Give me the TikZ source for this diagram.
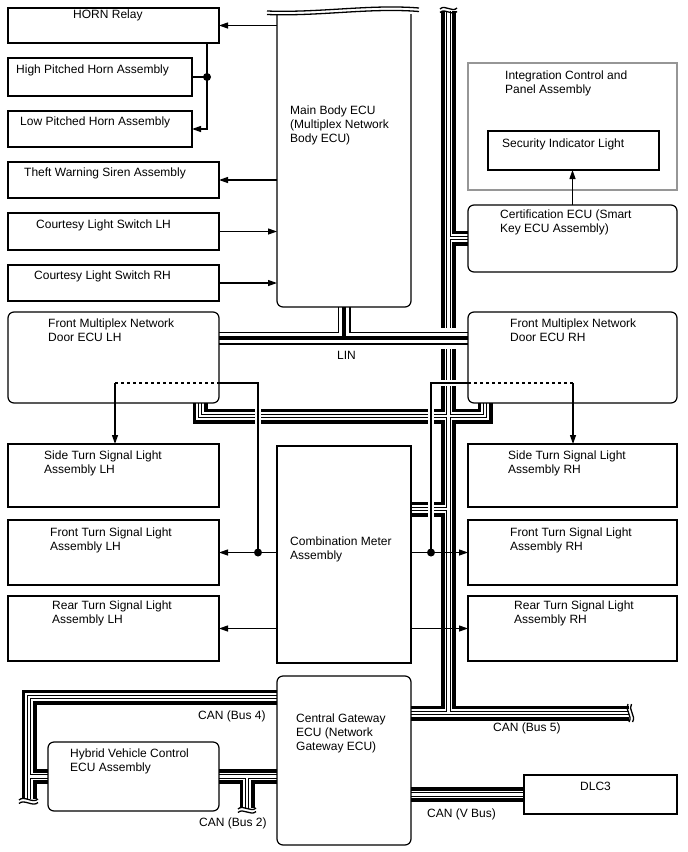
\documentclass[tikz,border=0pt]{standalone}
\usepackage{fontspec}
\setmainfont{Liberation Sans}
\usetikzlibrary{arrows.meta,backgrounds}
\definecolor{frameG}{RGB}{150,150,150}

% CAN twisted pairs, drawn in layers
\newcommand\canpath{%
  (448.5,11) -- (448.5,713)
  (gateway.east |- 0,713) -- (629,713)
  (448.5,238) -- (cert.west |- 0,238)
  (200,0 |- doorl.south) |- (485,416) -- (485,0 |- doorr.south)
  (cmeter.east |- 0,509) -- (448.5,509)
  (gateway.west |- 0,697) -| (29,799)
  (29,776.5) -- (hybrid.west |- 0,776.5)
  (gateway.west |- 0,776.5) -- (hybrid.east |- 0,776.5)
  (247,776.5) -- (247,808)
  (gateway.east |- dlc.west) -- (dlc.west)}

\begin{document}
\begin{tikzpicture}[x=1pt,y=-1pt,>={Triangle[length=9pt,width=6pt]},
  box/.style 2 args={draw,line width=1.2pt,minimum width=#1,minimum height=#2,anchor=north west,inner sep=0pt,outer sep=0pt},
  rbox/.style 2 args={box={#1}{#2},rounded corners=6pt},
  txt/.style={anchor=north west,inner sep=0pt,align=left,font=\fontsize{12}{14}\selectfont},
  wire/.style={line width=1.2pt},
  sig/.style={line width=1.2pt,preaction={draw,white,line width=6pt}},
  brk/.style={line width=1.3pt}]
\useasboundingbox (0,0) rectangle (688,852);

% left column
\node[box={211}{35}] (horn) at (8,8) {};
\node[box={184}{38}] (high) at (8,58) {};
\node[box={184}{36}] (low) at (8,111) {};
\node[box={211}{36}] (theft) at (8,162) {};
\node[box={211}{37}] (cslh) at (8,213) {};
\node[box={211}{36}] (csrh) at (8,265) {};
\node[rbox={211}{91}] (doorl) at (8,312) {};
\node[box={211}{63}] (sidel) at (8,444) {};
\node[box={211}{65}] (frontl) at (8,520) {};
\node[box={211}{65}] (rearl) at (8,596) {};
\node[rbox={171}{69}] (hybrid) at (48,742) {};

% middle column
\node[box={134}{293},draw=none] (mainecu) at (277,14) {};
\draw[wire,rounded corners=6pt] (mainecu.north west) -- (mainecu.south west) -- (mainecu.south east) -- (mainecu.north east);
\node[box={134}{217}] (cmeter) at (277,446) {};
\node[rbox={134}{169}] (gateway) at (277,676) {};

% right column
\node[box={209}{127},draw=frameG] (integ) at (468,63) {};
\node[box={171}{39}] (secind) at (488,131) {};
\node[rbox={209}{67}] (cert) at (468,205) {};
\node[rbox={209}{91}] (doorr) at (468,312) {};
\node[box={209}{63}] (sider) at (468,444) {};
\node[box={209}{65}] (frontr) at (468,520) {};
\node[box={209}{65}] (rearr) at (468,596) {};
\node[box={153}{39}] (dlc) at (524,775) {};

\coordinate (hjoin) at (207,77);
\coordinate (dl) at (115,383);
\coordinate (dr) at (573,383);
\path (frontl.east) ++(39,0) coordinate (ldot);
\path (frontr.west) ++(-37,0) coordinate (rdot);

\begin{scope}[on background layer]
  \foreach \w/\c in {15pt/black,7.5pt/white,4.5pt/black,2.5pt/white}
    \draw[line width=\w,\c] \canpath;
  % LIN
  \draw[white,line width=21pt] (doorl.east |- 0,338) -- (doorr.west |- 0,338);
  \foreach \w/\c in {13pt/black,10.5pt/white,4.5pt/black}
    \draw[line width=\w,\c] (mainecu.south) -- (mainecu.south |- 0,338)
      (doorl.east |- 0,338) -- (doorr.west |- 0,338);
  % turn signal feeds
  \draw[sig] (doorl.east |- dl) -| (ldot);
  \draw[sig] (doorr.west |- dr) -| (rdot);
\end{scope}

% breaks
\draw[brk] (267,11) .. controls (320,13) and (370,4) .. (419,8);
\draw[brk] (267,14.5) .. controls (320,16.5) and (370,7.5) .. (419,11.5);
\draw[brk] (440,9) .. controls (445,4) and (452,13) .. (457,8);
\draw[brk] (440,12.5) .. controls (445,7.5) and (452,16.5) .. (457,11.5);
\draw[brk] (628,704) .. controls (624,709) and (633,716) .. (629,722);
\draw[brk] (631.5,704) .. controls (627.5,709) and (636.5,716) .. (632.5,722);
\draw[brk] (19,800) .. controls (24,795) and (33,804) .. (38,799);
\draw[brk] (19,803.5) .. controls (24,798.5) and (33,807.5) .. (38,802.5);
\draw[brk] (238,809) .. controls (243,804) and (251,813) .. (256,808);
\draw[brk] (238,812.5) .. controls (243,807.5) and (251,816.5) .. (256,811.5);

% horn and switches
\draw[wire,->] (mainecu.west |- horn.east) -- (horn.east);
\draw[wire,->] (hjoin |- horn.south) |- (low.east);
\draw[wire] (high.east) -- (hjoin);
\fill (hjoin) circle (4pt);
\draw[wire,->] (mainecu.west |- theft.east) -- (theft.east);
\draw[wire,->] (cslh.east) -- (mainecu.west |- cslh.east);
\draw[wire,->] (csrh.east) -- (mainecu.west |- csrh.east);
\draw[wire,->] (cert.north) -- (cert.north |- secind.south);

% turn signals
\draw[wire,dashed,dash pattern=on 3pt off 3pt] (dl) -- (doorl.east |- dl);
\draw[wire,dashed,dash pattern=on 3pt off 3pt] (dr) -- (doorr.west |- dr);
\draw[wire,->] (dl) -- (dl |- sidel.north);
\draw[wire,->] (dr) -- (dr |- sider.north);
\draw[wire,->] (cmeter.west |- frontl.east) -- (frontl.east);
\draw[wire,->] (cmeter.west |- rearl.east) -- (rearl.east);
\draw[wire,->] (cmeter.east |- frontr.west) -- (frontr.west);
\draw[wire,->] (cmeter.east |- rearr.west) -- (rearr.west);
\fill (ldot) circle (4pt);
\fill (rdot) circle (4pt);

% texts
\node[txt] (thorn) at (73,9.5) {HORN Relay};
\node[txt] (thigh) at (16,64.5) {High Pitched Horn Assembly};
\node[txt] (tlow) at (20,116.5) {Low Pitched Horn Assembly};
\node[txt] (ttheft) at (24,167.5) {Theft Warning Siren Assembly};
\node[txt] (tcslh) at (36,219.5) {Courtesy Light Switch LH};
\node[txt] (tcsrh) at (34,270.5) {Courtesy Light Switch RH};
\node[txt] (tdoorl) at (48,318.5) {Front Multiplex Network\\Door ECU LH};
\node[txt] (tsidel) at (44,450.5) {Side Turn Signal Light\\Assembly LH};
\node[txt] (tfrontl) at (50,527.5) {Front Turn Signal Light\\Assembly LH};
\node[txt] (trearl) at (52,600.5) {Rear Turn Signal Light\\Assembly LH};
\node[txt] (tmain) at (290,105.5) {Main Body ECU\\(Multiplex Network\\Body ECU)};
\node[txt] (tcmeter) at (290,536.5) {Combination Meter\\Assembly};
\node[txt] (tgateway) at (296,713.5) {Central Gateway\\ECU (Network\\Gateway ECU)};
\node[txt] (tinteg) at (505,70.5) {Integration Control and\\Panel Assembly};
\node[txt] (tsecind) at (502,138.5) {Security Indicator Light};
\node[txt] (tcert) at (500,209.5) {Certification ECU (Smart\\Key ECU Assembly)};
\node[txt] (tdoorr) at (510,318.5) {Front Multiplex Network\\Door ECU RH};
\node[txt] (tsider) at (508,450.5) {Side Turn Signal Light\\Assembly RH};
\node[txt] (tfrontr) at (510,527.5) {Front Turn Signal Light\\Assembly RH};
\node[txt] (trearr) at (514,600.5) {Rear Turn Signal Light\\Assembly RH};
\node[txt] (thybrid) at (70,748.5) {Hybrid Vehicle Control\\ECU Assembly};
\node[txt] (tdlc) at (580,781.5) {DLC3};
\node[txt] (tlin) at (337,351.5) {LIN};
\node[txt] (tbus4) at (198,710.5) {CAN (Bus 4)};
\node[txt] (tbus5) at (493,722.5) {CAN (Bus 5)};
\node[txt] (tbus2) at (199,817.5) {CAN (Bus 2)};
\node[txt] (tvbus) at (427,808.5) {CAN (V Bus)};
\end{tikzpicture}
\end{document}
